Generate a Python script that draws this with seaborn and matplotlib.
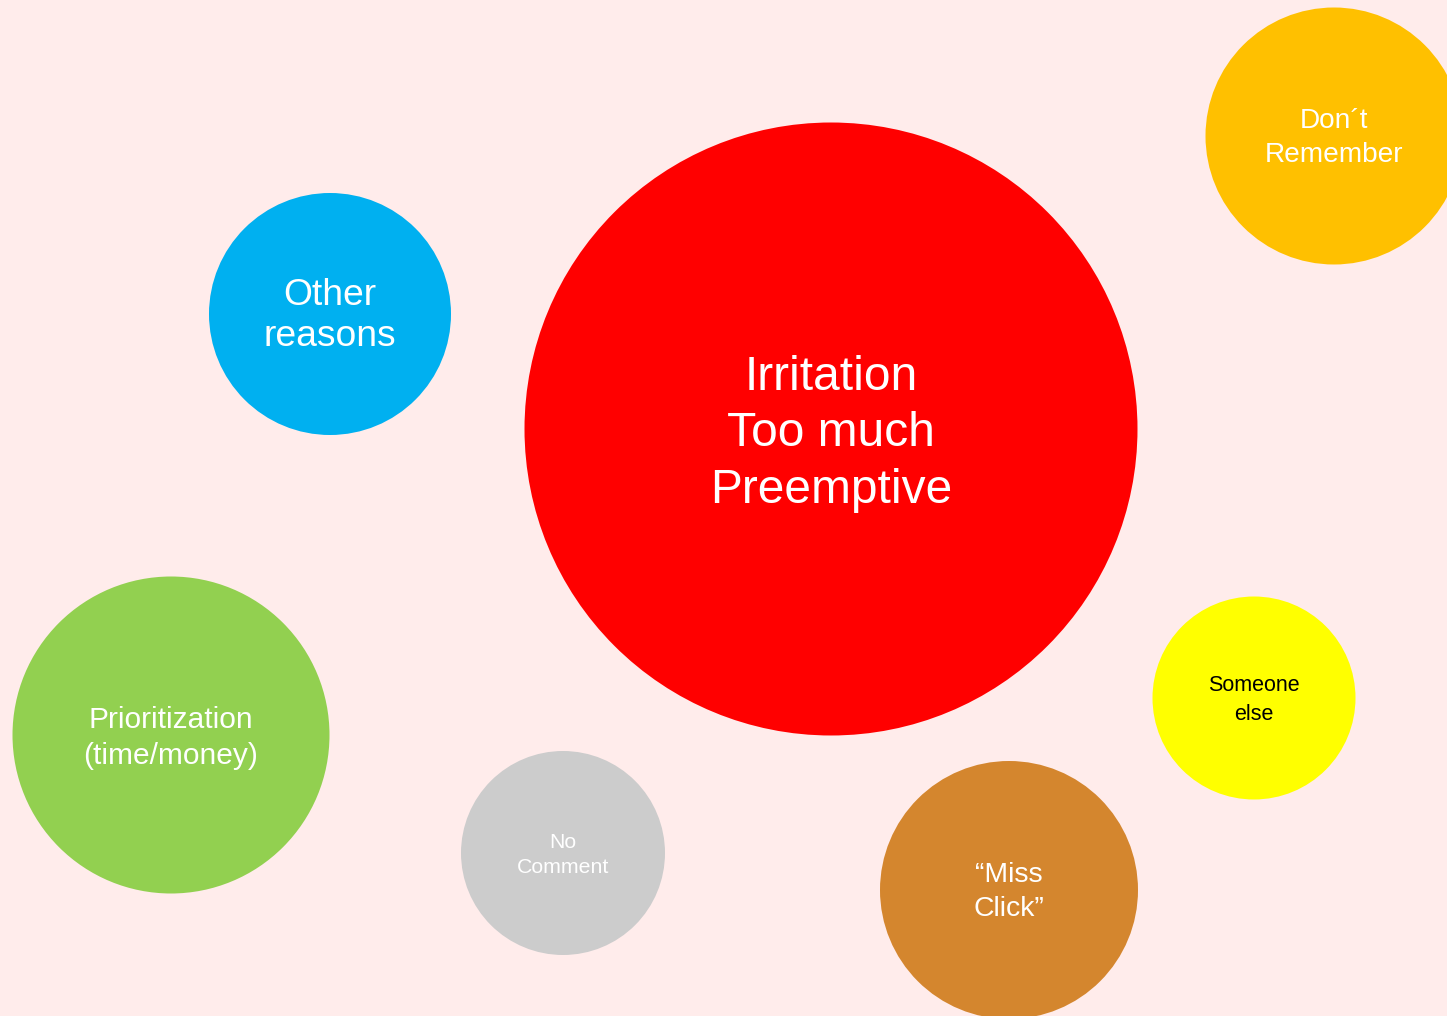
import pandas as pd
import matplotlib
matplotlib.use("Agg")
import matplotlib.pyplot as plt
import seaborn as sns

# bubble data (pixel-space positions of the reference slide, radius in px)
labels = ["Irritation\nToo much\nPreemptive", "Don\u00b4t\nRemember", "Other\nreasons",
          "Prioritization\n(time/money)", "No\nComment", "\u201cMiss\nClick\u201d", "Someone\nelse"]
x_pos = [831, 1334, 330, 171, 563, 1009, 1254]
y_pos = [429, 136, 314, 735, 853, 890, 698]
radius = [306.5, 128.5, 121, 158.5, 102, 129, 101.5]
colors = ["#FF0000", "#FFC000", "#00B0F0", "#92D050", "#CCCCCC", "#D4862E", "#FFFF00"]
font_sizes = [34.5, 20.2, 26.8, 21.5, 15.3, 20.4, 15.5]
text_colors = ["white", "white", "white", "white", "white", "white", "black"]
line_gaps = [1.33, 1.36, 1.25, 1.36, 1.46, 1.4, 1.47]
text_nudge = [5, 2, 2, 3, 2, 2, 2]

df = pd.DataFrame({"label": labels, "x": x_pos, "y": y_pos, "r": radius})

dpi = 100
W, H = 1447, 1016
bg = "#FFECEB"

sns.set_style("white")
plt.rcParams["font.family"] = ["Liberation Sans", "DejaVu Sans"]

fig = plt.figure(figsize=(W / dpi, H / dpi), dpi=dpi, facecolor=bg)
ax = fig.add_axes([0, 0, 1, 1])
ax.set_facecolor(bg)
ax.set_xlim(0, W)
ax.set_ylim(H, 0)

# marker area in points^2 so the diameter matches 2*r pixels
df["s"] = (2 * df["r"] * 72 / dpi) ** 2

sns.scatterplot(data=df, x="x", y="y", hue="label", palette=dict(zip(labels, colors)),
                s=df["s"].values, linewidth=0, legend=False, ax=ax, clip_on=False)

for i, row in df.iterrows():
    ax.text(row["x"], row["y"] + text_nudge[i], row["label"], ha="center", va="center",
            multialignment="center", fontsize=font_sizes[i], color=text_colors[i],
            linespacing=line_gaps[i])

ax.axis("off")
fig.savefig("out.png", dpi=dpi, facecolor=bg)
